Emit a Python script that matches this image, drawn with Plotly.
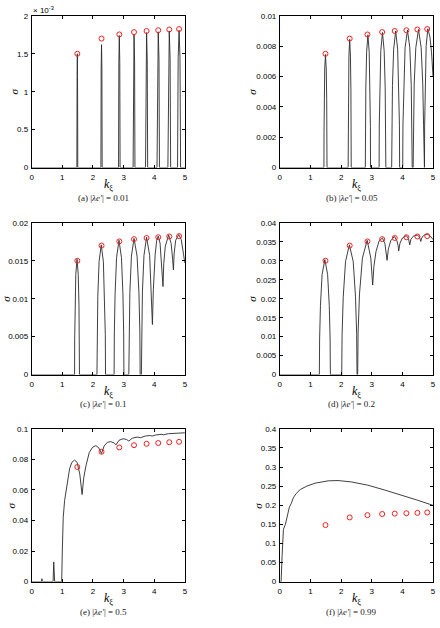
import plotly.graph_objects as go

# ---------------- data ----------------
circ_k = [1.49, 2.28, 2.86, 3.34, 3.75, 4.13, 4.49, 4.81]

circ_a = [1.5e-3, 1.70e-3, 1.755e-3, 1.785e-3, 1.80e-3, 1.81e-3, 1.82e-3, 1.825e-3]
circ_b = [0.0075, 0.0085, 0.00877, 0.00893, 0.0090, 0.00905, 0.0091, 0.00913]
circ_c = [0.015, 0.017, 0.01755, 0.01785, 0.0180, 0.0181, 0.0182, 0.01825]
circ_d = [0.030, 0.034, 0.0351, 0.0357, 0.0360, 0.0362, 0.0364, 0.0365]
circ_e = [0.075, 0.085, 0.0878, 0.0893, 0.0902, 0.0907, 0.0912, 0.0915]
circ_f = [0.148, 0.168, 0.174, 0.177, 0.178, 0.179, 0.180, 0.181]

k_a = [0, 1.475, 1.483, 1.49, 1.497, 1.505, 2.26, 2.268, 2.28, 2.292, 2.30,
       2.835, 2.845, 2.86, 2.875, 2.885, 3.31, 3.322, 3.34, 3.358, 3.37,
       3.715, 3.729, 3.75, 3.771, 3.785, 4.09, 4.106, 4.13, 4.154, 4.17,
       4.445, 4.463, 4.49, 4.517, 4.535, 4.76, 4.78, 4.81, 4.84, 4.86, 5.0]
s_a = [0, 0, 1.2e-3, 1.5e-3, 1.2e-3, 0, 0, 1.3e-3, 1.62e-3, 1.3e-3, 0,
       0, 1.39e-3, 1.74e-3, 1.39e-3, 0, 0, 1.4e-3, 1.75e-3, 1.4e-3, 0,
       0, 1.42e-3, 1.78e-3, 1.42e-3, 0, 0, 1.43e-3, 1.79e-3, 1.43e-3, 0,
       0, 1.44e-3, 1.80e-3, 1.44e-3, 0, 0, 1.45e-3, 1.81e-3, 1.45e-3, 0, 0]

k_b = [0,
       1.44, 1.4425, 1.45, 1.465, 1.49, 1.515, 1.53, 1.5375, 1.54,
       2.23, 2.2325, 2.24, 2.255, 2.28, 2.305, 2.32, 2.3275, 2.33,
       2.79, 2.794, 2.807, 2.8325, 2.875, 2.9175, 2.943, 2.956, 2.96,
       3.24, 3.2455, 3.262, 3.295, 3.35, 3.405, 3.438, 3.4545, 3.46,
       3.65, 3.6565, 3.676, 3.715, 3.78, 3.845, 3.884, 3.9035, 3.91,
       4.01, 4.018, 4.041, 4.0875, 4.165, 4.2425, 4.289, 4.312, 4.32,
       4.35, 4.359, 4.385, 4.4375, 4.525, 4.6125, 4.665, 4.691, 4.70,
       4.72, 4.726, 4.742, 4.775, 4.83, 4.90, 4.95, 5.0]
s_b = [0,
       0, 2.3e-3, 4.5e-3, 6.5e-3, 7.45e-3, 6.5e-3, 4.5e-3, 2.3e-3, 0,
       0, 2.6e-3, 5.1e-3, 7.35e-3, 8.45e-3, 7.35e-3, 5.1e-3, 2.6e-3, 0,
       0, 2.7e-3, 5.25e-3, 7.6e-3, 8.75e-3, 7.6e-3, 5.25e-3, 2.7e-3, 0,
       0, 2.8e-3, 5.3e-3, 7.7e-3, 8.9e-3, 7.7e-3, 5.3e-3, 2.8e-3, 0,
       0, 2.8e-3, 5.4e-3, 7.8e-3, 9.0e-3, 7.8e-3, 5.4e-3, 2.8e-3, 0,
       0, 2.8e-3, 5.4e-3, 7.9e-3, 9.05e-3, 7.9e-3, 5.4e-3, 2.8e-3, 0,
       0, 2.8e-3, 5.5e-3, 7.9e-3, 9.1e-3, 7.9e-3, 5.5e-3, 2.8e-3, 0,
       0, 2.8e-3, 5.5e-3, 8.0e-3, 9.15e-3, 8.6e-3, 7.6e-3, 6.0e-3]

k_c = [0, 1.40, 1.404, 1.416, 1.44, 1.48, 1.52, 1.544, 1.556, 1.56,
       2.13, 2.137, 2.158, 2.20, 2.27, 2.34, 2.382, 2.403, 2.41,
       2.69, 2.698, 2.722, 2.77, 2.85, 2.93, 2.978, 3.002, 3.01,
       3.17, 3.179, 3.204, 3.255, 3.34, 3.44, 3.50, 3.53, 3.54,
       3.58, 3.589, 3.614, 3.665, 3.75, 3.85, 3.91, 3.94,
       3.97, 4.03, 4.08, 4.13, 4.19, 4.24, 4.285,
       4.31, 4.36, 4.47, 4.55, 4.60, 4.625,
       4.65, 4.70, 4.80, 4.88, 4.95, 5.0]
s_c = [0, 0, 4.7e-3, 9.1e-3, 13.2e-3, 15.2e-3, 13.2e-3, 9.1e-3, 4.7e-3, 0,
       0, 5.3e-3, 10.3e-3, 14.9e-3, 17.1e-3, 14.9e-3, 10.3e-3, 5.3e-3, 0,
       0, 5.5e-3, 10.6e-3, 15.4e-3, 17.7e-3, 15.4e-3, 10.6e-3, 5.5e-3, 0,
       0, 5.6e-3, 10.8e-3, 15.6e-3, 17.95e-3, 15.6e-3, 10.8e-3, 5.6e-3, 0,
       0, 5.6e-3, 10.9e-3, 15.7e-3, 18.1e-3, 15.7e-3, 10.9e-3, 6.6e-3,
       11.2e-3, 15.8e-3, 17.7e-3, 18.25e-3, 17.3e-3, 14.9e-3, 11.6e-3,
       14.6e-3, 16.9e-3, 18.4e-3, 17.3e-3, 15.2e-3, 13.8e-3,
       16.0e-3, 17.7e-3, 18.45e-3, 17.8e-3, 16.0e-3, 14.7e-3]

k_d = [0, 1.29, 1.299, 1.326, 1.38, 1.47, 1.56, 1.614, 1.641, 1.65,
       2.02, 2.0325, 2.07, 2.145, 2.27, 2.395, 2.47, 2.5075, 2.52,
       2.54, 2.555, 2.60, 2.695, 2.85, 2.97, 3.00, 3.03,
       3.07, 3.14, 3.24, 3.35, 3.43, 3.48, 3.50,
       3.54, 3.62, 3.74, 3.82, 3.86, 3.88,
       3.92, 4.00, 4.13, 4.20, 4.24,
       4.28, 4.36, 4.49, 4.56, 4.60,
       4.64, 4.72, 4.81, 4.90, 4.96, 5.0]
s_d = [0, 0, 9.4e-3, 18.2e-3, 26.4e-3, 30.3e-3, 26.4e-3, 18.2e-3, 9.4e-3, 0,
       0, 10.6e-3, 20.5e-3, 29.8e-3, 34.2e-3, 29.8e-3, 20.5e-3, 10.6e-3, 0,
       0, 11.0e-3, 21.2e-3, 30.7e-3, 35.4e-3, 30.7e-3, 27.6e-3, 23.6e-3,
       28.5e-3, 32.5e-3, 35.2e-3, 36.0e-3, 34.5e-3, 31.8e-3, 30.1e-3,
       33.0e-3, 35.3e-3, 36.4e-3, 35.3e-3, 34.0e-3, 32.6e-3,
       34.6e-3, 36.0e-3, 36.6e-3, 35.8e-3, 34.2e-3,
       35.7e-3, 36.5e-3, 36.8e-3, 36.2e-3, 35.1e-3,
       36.2e-3, 36.8e-3, 37.0e-3, 36.6e-3, 36.0e-3, 35.6e-3]

k_e = [0, 0.32, 0.335, 0.35, 0.70, 0.72, 0.75, 0.98, 1.0, 1.03, 1.075, 1.13,
       1.237, 1.31, 1.40, 1.484, 1.57, 1.645, 1.70, 1.774, 1.88, 1.99,
       2.097, 2.20, 2.28, 2.366, 2.473, 2.58, 2.69, 2.75, 2.85, 2.98,
       3.09, 3.17, 3.28, 3.44, 3.55, 3.71, 3.87, 3.93, 4.03, 4.25,
       4.30, 4.46, 4.73, 5.0]
s_e = [0, 0, 0.0019, 0, 0, 0.0129, 0, 0, 0.02, 0.042, 0.053, 0.061,
       0.0738, 0.078, 0.0796, 0.078, 0.0705, 0.057, 0.068, 0.076, 0.0845, 0.088,
       0.089, 0.0873, 0.0839, 0.0888, 0.0912, 0.0916, 0.0908, 0.0895, 0.0925, 0.0935,
       0.0931, 0.092, 0.0938, 0.0946, 0.0942, 0.0953, 0.0956, 0.0952, 0.0959, 0.0964,
       0.0961, 0.0968, 0.0972, 0.0974]

k_f = [0, 0.043, 0.075, 0.118, 0.183, 0.258, 0.312, 0.376, 0.441, 0.527, 0.667,
       0.882, 1.151, 1.58, 1.90, 2.33, 2.87, 3.41, 3.95, 4.48, 5.0]
s_f = [0, 0, 0.068, 0.137, 0.150, 0.176, 0.195, 0.205, 0.2195, 0.23, 0.241,
       0.25, 0.2577, 0.2638, 0.2646, 0.261, 0.2525, 0.240, 0.227, 0.2135, 0.1996]

x_ticks = [0, 1, 2, 3, 4, 5]
x_ticktext = ["0", "1", "2", "3", "4", "5"]

y_ticks_a = [0, 0.0005, 0.001, 0.0015, 0.002]
y_text_a = ["0", "0.5", "1", "1.5", "2"]
y_ticks_b = [0, 0.002, 0.004, 0.006, 0.008, 0.01]
y_text_b = ["0", "0.002", "0.004", "0.006", "0.008", "0.01"]
y_ticks_c = [0, 0.005, 0.01, 0.015, 0.02]
y_text_c = ["0", "0.005", "0.01", "0.015", "0.02"]
y_ticks_d = [0, 0.005, 0.01, 0.015, 0.02, 0.025, 0.03, 0.035, 0.04]
y_text_d = ["0", "0.005", "0.01", "0.015", "0.02", "0.025", "0.03", "0.035", "0.04"]
y_ticks_e = [0, 0.02, 0.04, 0.06, 0.08, 0.1]
y_text_e = ["0", "0.02", "0.04", "0.06", "0.08", "0.1"]
y_ticks_f = [0, 0.05, 0.1, 0.15, 0.2, 0.25, 0.3, 0.35, 0.4]
y_text_f = ["0", "0.05", "0.1", "0.15", "0.2", "0.25", "0.3", "0.35", "0.4"]

captions = ["(a) |<i>λe′</i>| = 0.01", "(b) |<i>λe′</i>| = 0.05", "(c) |<i>λe′</i>| = 0.1",
            "(d) |<i>λe′</i>| = 0.2", "(e) |<i>λe′</i>| = 0.5", "(f) |<i>λe′</i>| = 0.99"]

# ---------------- layout geometry (pixels) ----------------
W, H = 440, 628
px_x = [(30, 185), (281, 436)] * 3
px_y = [(12, 166), (12, 166), (222, 376), (222, 376), (431, 586), (431, 586)]
sigma_pos = [(12, 89), (253, 89), (4, 299), (253, 299), (9, 509), (259, 509)]
klab_y = [184, 184, 394, 394, 604, 604]
cap_y = [197, 197, 406, 406, 617, 617]
cap_x = [103, 354] * 3

panels = [
    (k_a, s_a, circ_a, 0.002, y_ticks_a, y_text_a),
    (k_b, s_b, circ_b, 0.01, y_ticks_b, y_text_b),
    (k_c, s_c, circ_c, 0.02, y_ticks_c, y_text_c),
    (k_d, s_d, circ_d, 0.04, y_ticks_d, y_text_d),
    (k_e, s_e, circ_e, 0.1, y_ticks_e, y_text_e),
    (k_f, s_f, circ_f, 0.4, y_ticks_f, y_text_f),
]

fig = go.Figure()
sans = "Liberation Sans, Arial, sans-serif"
tickfont = dict(family=sans, size=8, color="black")
serif = "Liberation Serif, DejaVu Serif, serif"
annotations = []

for i, (k, s, circ, ymax, yt, ytt) in enumerate(panels):
    n = "" if i == 0 else str(i + 1)
    xa, ya = "x" + n, "y" + n
    fig.add_trace(go.Scatter(x=k, y=s, mode="lines", xaxis=xa, yaxis=ya,
                             line=dict(color="#2a2a2a", width=0.9), hoverinfo="skip"))
    fig.add_trace(go.Scatter(x=circ_k, y=circ, mode="markers", xaxis=xa, yaxis=ya,
                             marker=dict(symbol="circle-open", size=5, color="#f02020",
                                         line=dict(width=1, color="#f02020")),
                             hoverinfo="skip"))
    x0, x1 = px_x[i]
    y0, y1 = px_y[i]
    common = dict(showline=True, linecolor="black", linewidth=0.8, mirror="ticks",
                  ticks="inside", ticklen=3, tickwidth=0.8, tickcolor="black",
                  showgrid=False, zeroline=False, tickfont=tickfont)
    fig.update_layout(**{
        "xaxis" + n: dict(domain=[x0 / W, x1 / W], range=[0, 5], anchor=ya,
                          tickvals=x_ticks, ticktext=x_ticktext, ticklabelstandoff=2, **common),
        "yaxis" + n: dict(domain=[1 - y1 / H, 1 - y0 / H], range=[0, ymax], anchor=xa,
                          tickvals=yt, ticktext=ytt, ticklabelstandoff=1, **common),
    })
    sx, sy = sigma_pos[i]
    annotations.append(dict(x=sx / W, y=1 - sy / H, xref="paper", yref="paper",
                            xanchor="center", yanchor="middle",
                            text="<i>σ</i>", showarrow=False, textangle=-90,
                            font=dict(family=serif, size=11, color="black")))
    annotations.append(dict(x=(x0 + x1) / 2 / W, y=1 - klab_y[i] / H, xref="paper", yref="paper",
                            xanchor="center", yanchor="middle",
                            text="<i>k</i><sub>ξ</sub>", showarrow=False,
                            font=dict(family=serif, size=12, color="black")))
    annotations.append(dict(x=cap_x[i] / W, y=1 - cap_y[i] / H, xref="paper", yref="paper",
                            xanchor="center", yanchor="middle",
                            text=captions[i], showarrow=False,
                            font=dict(family=serif, size=9, color="#222")))

annotations.append(dict(x=29 / W, y=1 - 6 / H, xref="paper", yref="paper",
                        xanchor="left", yanchor="middle",
                        text="× 10<sup>-3</sup>", showarrow=False,
                        font=dict(family=sans, size=8, color="black")))

fig.update_layout(width=W, height=H, margin=dict(l=0, r=0, t=0, b=0),
                  paper_bgcolor="white", plot_bgcolor="white", showlegend=False,
                  annotations=annotations)

fig.write_html("out.html")
